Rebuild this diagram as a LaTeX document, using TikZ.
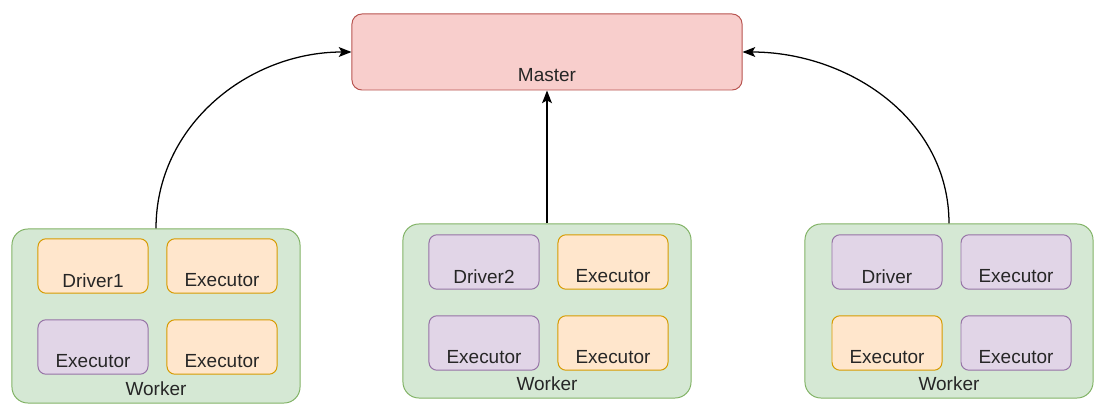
\documentclass[tikz,border=0pt]{standalone}
\usepackage{fontspec}
\setmainfont{Liberation Sans}
\usetikzlibrary{arrows.meta}

\definecolor{wfill}{HTML}{D5E8D4}
\definecolor{wdraw}{HTML}{82B366}
\definecolor{ofill}{HTML}{FFE6CC}
\definecolor{odraw}{HTML}{D79B00}
\definecolor{pfill}{HTML}{E1D5E7}
\definecolor{pdraw}{HTML}{9673A6}
\definecolor{mfill}{HTML}{F8CECC}
\definecolor{mdraw}{HTML}{B85450}

\tikzset{
  txt/.style={anchor=center, text=black!85, font=\fontsize{13.5}{16}\selectfont},
  box/.style={draw, line width=0.7pt, inner sep=0pt},
  master/.style={box, fill=mfill, draw=mdraw, rounded corners=0.25cm,
    minimum width=9.75cm, minimum height=1.9cm,
    label={[txt, yshift=0.375cm]south:#1}},
  worker/.style={box, fill=wfill, draw=wdraw, rounded corners=0.4cm,
    minimum width=7.2cm, minimum height=4.35cm,
    label={[txt, yshift=0.375cm]south:#1}},
  orng/.style={box, fill=ofill, draw=odraw, rounded corners=0.2cm,
    minimum width=2.75cm, minimum height=1.36cm,
    label={[txt, yshift=0.33cm]south:#1}},
  purp/.style={box, fill=pfill, draw=pdraw, rounded corners=0.2cm,
    minimum width=2.75cm, minimum height=1.36cm,
    label={[txt, yshift=0.33cm]south:#1}},
  conn/.style={line width=0.9pt, -{Stealth[length=9pt, width=7pt, inset=2pt]}}
}

\begin{document}
\begin{tikzpicture}[x=0.025cm, y=-0.025cm]
  \useasboundingbox (0,0) rectangle (1106,413);

  \node[master=Master] (m) at (547,52) {};

  % left worker
  \node[worker=Worker] (w1) at (156,316) {};
  \node[orng=Driver1] (d1) at (93,266) {};
  \node[orng=Executor] (e11) at (222,266) {};
  \node[purp=Executor] (e12) at (93,347) {};
  \node[orng=Executor] (e13) at (222,347) {};

  % middle worker
  \node[worker=Worker] (w2) at (547,311) {};
  \node[purp=Driver2] (d2) at (484,262) {};
  \node[orng=Executor] (e21) at (613,262) {};
  \node[purp=Executor] (e22) at (484,343) {};
  \node[orng=Executor] (e23) at (613,343) {};

  % right worker
  \node[worker=Worker] (w3) at (949,311) {};
  \node[purp=Driver] (d3) at (887,262) {};
  \node[purp=Executor] (e31) at (1016,262) {};
  \node[orng=Executor] (e32) at (887,343) {};
  \node[purp=Executor] (e33) at (1016,343) {};

  \draw[conn] (w1.north) to[out=90, in=180] (m.west);
  \draw[conn] (w2.north) -- (m.south);
  \draw[conn] (w3.north) to[out=90, in=0] (m.east);
\end{tikzpicture}
\end{document}
